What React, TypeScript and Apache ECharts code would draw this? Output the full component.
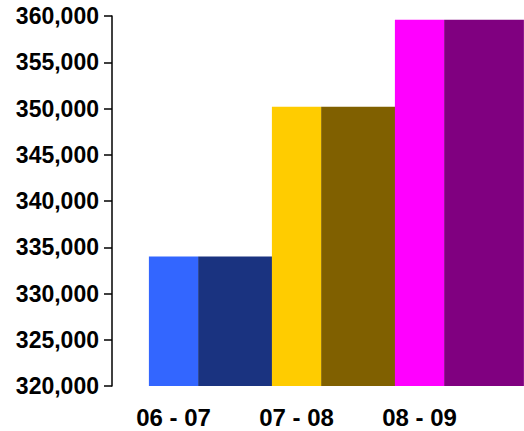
import React, { useEffect, useRef } from "react";
import * as echarts from "echarts";

const categories = ["06 - 07", "07 - 08", "08 - 09"];
const values = [334000, 350200, 359600];
const lightColors = ["#3366FF", "#FFCC00", "#FF00FF"];
const darkColors = ["#1A3380", "#806000", "#800080"];
const yMin = 320000;
const yMax = 360000;
const yInterval = 5000;

export default function App() {
  const ref = useRef<HTMLDivElement>(null);
  useEffect(() => {
    if (!ref.current) return;
    const chart = echarts.init(ref.current, undefined, { renderer: "svg" });
    chart.setOption({
      animation: false,
      grid: { left: 112, top: 16, width: 369, bottom: 45, containLabel: false },
      xAxis: {
        type: "category",
        data: categories,
        axisLine: { show: false },
        axisTick: { show: false },
        axisLabel: {
          margin: 19,
          color: "#000",
          fontFamily: "Liberation Sans, Arial, sans-serif",
          fontWeight: "bold",
          fontSize: 24,
        },
      },
      yAxis: {
        type: "value",
        min: yMin,
        max: yMax,
        interval: yInterval,
        splitLine: { show: false },
        axisLine: { show: true, lineStyle: { color: "#000", width: 1.5 } },
        axisTick: { show: true, inside: false, length: 8, lineStyle: { color: "#000", width: 1.5 } },
        axisLabel: {
          margin: 13,
          color: "#000",
          fontFamily: "Liberation Sans, Arial, sans-serif",
          fontWeight: "bold",
          fontSize: 23,
          formatter: (v: number) => v.toLocaleString("en-US"),
        },
      },
      series: [
        {
          type: "custom",
          clip: false,
          data: values.map((v, i) => [i, v]),
          renderItem: (params: any, api: any) => {
            const idx = api.value(0);
            const val = api.value(1);
            const top = api.coord([idx, val]);
            const bottom = api.coord([idx, yMin]);
            const band = api.size([1, 0])[0];
            const lightW = band * 0.4;
            const darkW = band - lightW + 6;
            const x0 = top[0] - lightW / 2;
            const h = bottom[1] - top[1];
            return {
              type: "group",
              children: [
                {
                  type: "rect",
                  shape: { x: x0 + lightW, y: top[1], width: darkW, height: h },
                  style: { fill: darkColors[params.dataIndex] },
                },
                {
                  type: "rect",
                  shape: { x: x0, y: top[1], width: lightW, height: h },
                  style: { fill: lightColors[params.dataIndex] },
                },
              ],
            };
          },
        },
      ],
    });
    return () => chart.dispose();
  }, []);
  return (
    <div
      ref={ref}
      style={{ position: "absolute", left: 0, top: 0, width: 524, height: 431, background: "#fff" }}
    />
  );
}
